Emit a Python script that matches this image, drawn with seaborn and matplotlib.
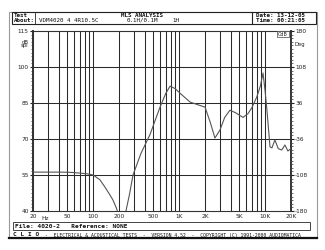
import numpy as np
import pandas as pd
import matplotlib
matplotlib.use("Agg")
import matplotlib.pyplot as plt
import seaborn as sns
from matplotlib.patches import Rectangle
from matplotlib.lines import Line2D

# ---- data ----
freq_hz = [20, 30, 41, 55, 70, 85, 100, 120, 137, 155, 170, 185, 205, 225, 241, 265, 291, 360,
           458, 600, 700, 784, 900, 1030, 1340, 1670, 2000, 2300, 2610, 2980, 3390, 3900,
           4500, 5530, 6300, 7000, 8000, 8800, 9450, 10000, 10500, 11400, 12000, 13000,
           14200, 15600, 17000, 18400, 20000]
spl_db = [56.2, 56.2, 56.2, 56.1, 55.8, 55.5, 55.0, 53.0, 50.0, 47.0, 44.6, 41.5, 37.0, 37.5,
          40.0, 47.0, 55.0, 64.0, 71.8, 83.3, 89.0, 92.0, 91.0, 89.0, 85.4, 84.2, 83.3, 77.0,
          70.4, 73.7, 79.0, 82.0, 81.0, 79.0, 80.5, 83.0, 87.5, 92.0, 97.5, 90.0, 82.0, 66.7,
          66.3, 69.6, 66.0, 65.4, 67.5, 65.0, 66.0]

x_ticks = [20, 50, 100, 200, 500, 1000, 2000, 5000, 10000, 20000]
x_tick_labels = ["20", "50", "100", "200", "500", "1K", "2K", "5K", "10K", "20K"]
x_grid = [20, 30, 40, 50, 60, 70, 80, 90, 100, 200, 300, 400, 500, 600, 700, 800, 900,
          1000, 2000, 3000, 4000, 5000, 6000, 7000, 8000, 9000, 10000, 20000]
y_ticks = [40, 55, 70, 85, 100, 115]
y_tick_labels = ["40", "55", "70", "85", "100", "115"]
phase_labels = ["-180", "-108", "-36", "36", "108", "180"]

df = pd.DataFrame({"freq": freq_hz, "spl": spl_db})

W, H = 325, 250
fig = plt.figure(figsize=(W / 100, H / 100), dpi=100)
fig.patch.set_facecolor("white")

def fx(px):
    return px / W

def fy(py):
    return 1 - py / H

ax = fig.add_axes([fx(33), fy(211), fx(291) - fx(33), fy(31) - fy(211)])
ax.set_facecolor("white")
ax.set_xscale("log")
ax.set_xlim(20, 20000)
ax.set_ylim(40, 115)

gc = "#2a2a2a"
for xv in x_grid:
    ax.axvline(xv, color=gc, lw=0.75, zorder=1)
for yv in y_ticks[1:-1]:
    ax.axhline(yv, color=gc, lw=0.75, zorder=1)

sns.lineplot(data=df, x="freq", y="spl", ax=ax, color="#555555", lw=0.8, zorder=3)
ax.set_xlabel("")
ax.set_ylabel("")

ax.set_xticks(x_ticks)
ax.set_xticklabels(x_tick_labels)
ax.xaxis.set_minor_locator(matplotlib.ticker.NullLocator())
ax.set_yticks(y_ticks)
ax.set_yticklabels(y_tick_labels)
ax.set_yticks(np.arange(40, 115.1, 1.5), minor=True)
ax.tick_params(axis="x", which="both", length=0, labelsize=4.2, pad=2, colors="#222222")
ax.tick_params(axis="y", which="major", length=2, labelsize=4.2, pad=1, colors="#222222")
ax.tick_params(axis="y", which="minor", length=1.2, color="#555555")
for s in ax.spines.values():
    s.set_color("#333333")
    s.set_linewidth(0.8)
ax.spines["left"].set_linewidth(1.4)
ax.spines["right"].set_linewidth(1.4)

ax2 = ax.twinx()
ax2.set_ylim(-180, 180)
ax2.set_yticks([-180, -108, -36, 36, 108, 180])
ax2.set_yticklabels(phase_labels)
ax2.set_yticks(np.arange(-180, 180.1, 7.2), minor=True)
ax2.tick_params(axis="y", which="major", length=2, labelsize=4.2, pad=1, colors="#222222")
ax2.tick_params(axis="y", which="minor", length=1.2, color="#555555")
for s in ax2.spines.values():
    s.set_visible(False)

# unit labels
fig.text(fx(25), fy(42), "dB", fontsize=3.8, ha="center", va="center", color="#222222")
fig.text(fx(25), fy(46), "spl", fontsize=3.8, ha="center", va="center", color="#222222")
fig.text(fx(300), fy(45), "Deg", fontsize=3.8, ha="center", va="center", color="#222222")
fig.text(fx(45), fy(218), "Hz", fontsize=4.2, ha="center", va="center", color="#222222")
fig.text(fx(283), fy(34), "CdB", fontsize=3.5, ha="center", va="center", color="#222222",
         bbox=dict(boxstyle="square,pad=0.15", fc="white", ec="#444444", lw=0.5))

mono = "DejaVu Sans Mono"
tc = "#111111"
fs = 4.2

def hline(x0, x1, y, lw=0.8, c="#222222"):
    fig.add_artist(Line2D([fx(x0), fx(x1)], [fy(y), fy(y)], lw=lw, color=c))

def vline(x, y0, y1, lw=0.8, c="#222222"):
    fig.add_artist(Line2D([fx(x), fx(x)], [fy(y0), fy(y1)], lw=lw, color=c))

# outer frame
fig.add_artist(Rectangle((fx(9), fy(238)), fx(317) - fx(9), fy(11.5) - fy(238),
                         fill=False, ec="#999999", lw=0.8))
# header box
fig.add_artist(Rectangle((fx(12), fy(23.5)), fx(316) - fx(12), fy(11.5) - fy(23.5),
                         fill=False, ec="#222222", lw=0.8))
vline(252, 11.5, 23.5)
vline(35, 12.5, 22.5, lw=0.6)
r1, r2 = 15.3, 20.4
fig.text(fx(13.5), fy(r1), "Test", fontsize=fs, family=mono, va="center", color=tc, weight="bold")
fig.text(fx(142), fy(r1), "MLS ANALYSIS", fontsize=fs, family=mono, va="center", ha="center", color=tc, weight="bold")
fig.text(fx(256), fy(r1), "Date: 13-12-05", fontsize=fs, family=mono, va="center", color=tc, weight="bold")
fig.text(fx(13.5), fy(r2), "About:", fontsize=fs, family=mono, va="center", color=tc, weight="bold")
fig.text(fx(39), fy(r2), "VDM4020 4 4R10.5C", fontsize=fs, family=mono, va="center", color=tc)
fig.text(fx(127), fy(r2), "0.1H/0.1M", fontsize=fs, family=mono, va="center", color=tc)
fig.text(fx(172), fy(r2), "1H", fontsize=fs, family=mono, va="center", color=tc)
fig.text(fx(256), fy(r2), "Time: 00:21:05", fontsize=fs, family=mono, va="center", color=tc, weight="bold")

# file box
fig.add_artist(Rectangle((fx(13), fy(230)), fx(310) - fx(13), fy(221.7) - fy(230),
                         fill=False, ec="#444444", lw=0.7))
fig.text(fx(15), fy(226), "File: 4020-2   Reference: NONE", fontsize=4.4, family=mono,
         va="center", color=tc, weight="bold")
# clio bar
fig.text(fx(13), fy(235), "C L I O", fontsize=4.4, family=mono, va="center", color=tc, weight="bold")
fig.text(fx(45), fy(235), "-  ELECTRICAL & ACOUSTICAL TESTS  -  VERSION 4.52  -  COPYRIGHT (C) 1991-2000 AUDIOMATICA",
         fontsize=3.45, family=mono, va="center", color=tc)
hline(9, 317, 238.3, lw=1.6, c="#111111")

fig.savefig("out.png", dpi=100, facecolor="white")
